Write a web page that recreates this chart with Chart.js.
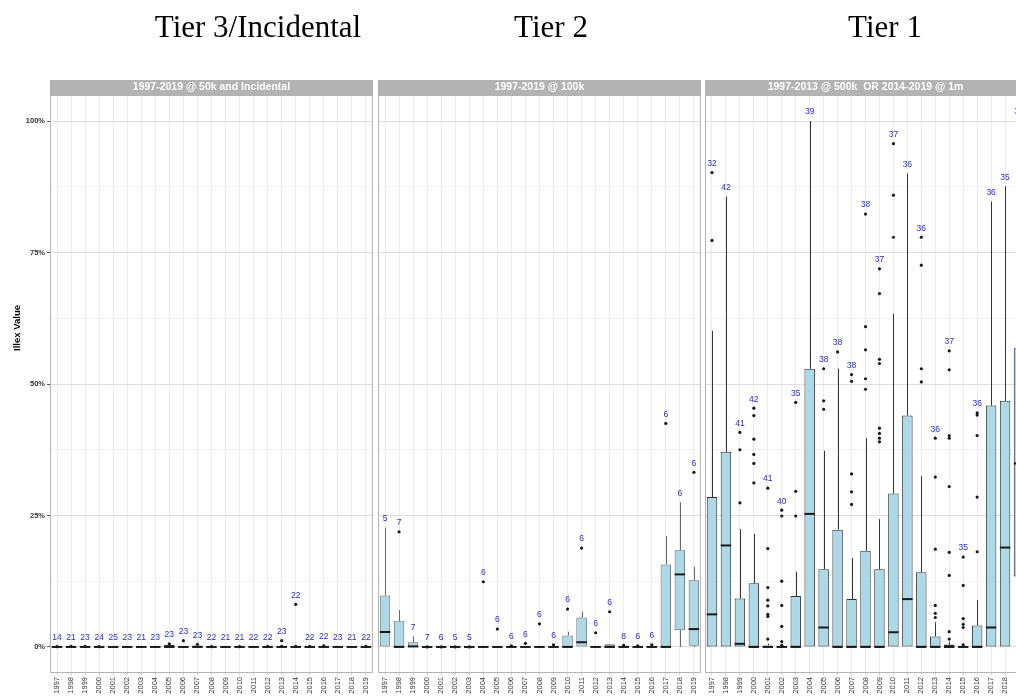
<!DOCTYPE html>
<html>
<head>
<meta charset="utf-8">
<script src="https://cdn.jsdelivr.net/npm/chart.js@4.4.1/dist/chart.umd.min.js"></script>
<style>
  html, body { margin: 0; padding: 0; background: #fff; overflow: hidden; }
  #wrap { position: relative; width: 1032px; height: 696px; }
  #wrap canvas { position: absolute; top: 0; }
  .tier {
    position: absolute; top: 11px;
    font-family: "Liberation Serif", "Times New Roman", serif;
    font-size: 31px; line-height: 31px; color: #000;
    white-space: nowrap; transform: translateX(-50%);
  }
</style>
</head>
<body>
<div id="wrap">
  <canvas id="p1" width="377" height="696" style="left:0px"></canvas>
  <canvas id="p2" width="331" height="696" style="left:374px"></canvas>
  <canvas id="p3" width="330" height="696" style="left:701px"></canvas>
  <div class="tier" style="left:258px">Tier 3/Incidental</div>
  <div class="tier" style="left:551px">Tier 2</div>
  <div class="tier" style="left:885px">Tier 1</div>
</div>
<script>
// Survey years shown along every facet
const years = ['1997','1998','1999','2000','2001','2002','2003','2004','2005','2006','2007','2008',
               '2009','2010','2011','2012','2013','2014','2015','2016','2017','2018','2019'];

// Y axis: percent values, labelled every 25
const yTickLabels = ['0%', '25%', '50%', '75%', '100%'];

// ---- Tier 3 / Incidental (1997-2019 @ 50k and Incidental) ----
const tier3Counts  = [14,21,23,24,25,23,21,23,23,23,23,22,21,21,22,22,23,22,22,22,23,21,22];
const tier3Q1      = [0,0,0,0,0,0,0,0,0,0,0,0,0,0,0,0,0,0,0,0,0,0,0];
const tier3Median  = [0,0,0,0,0,0,0,0,0,0,0,0,0,0,0,0,0,0,0,0,0,0,0];
const tier3Q3      = [0,0,0,0,0,0,0,0,0.4,0,0.3,0,0,0,0,0,0,0,0,0.15,0,0,0];
const tier3Low     = [0,0,0,0,0,0,0,0,0,0,0,0,0,0,0,0,0,0,0,0,0,0,0];
const tier3High    = [0,0,0,0,0,0,0,0,0.4,0,0.3,0,0,0,0,0,0,0,0,0.15,0,0,0];
const tier3Outliers = [[0.05],[0.1],[0.1],[0.05],[],[],[],[],[0.6],[1.2],[0.5],[0.05],
                       [],[0.05],[],[0.1],[0.1,1.2],[0.1,8.1],[0.1],[0.2],[],[],[0.1]];

// ---- Tier 2 (1997-2019 @ 100k) ----
const tier2Counts  = [5,7,7,7,6,5,5,6,6,6,6,6,6,6,6,6,6,8,6,6,6,6,6];
const tier2Q1      = [0,0,0,0,0,0,0,0,0,0,0,0,0,0,0,0,0,0,0,0,0,3.2,0.25];
const tier2Median  = [2.85,0,0.1,0,0,0,0,0,0,0,0,0,0,0,0.9,0,0,0,0,0,0,13.8,3.4];
const tier2Q3      = [9.8,4.9,0.9,0,0,0,0,0,0,0,0,0,0,2.2,5.6,0,0.5,0,0,0,15.7,18.4,12.7];
const tier2Low     = [0,0,0,0,0,0,0,0,0,0,0,0,0,0,0,0,0,0,0,0,0,0,0];
const tier2High    = [22.7,7.0,2.0,0,0,0,0,0,0,0,0,0,0,2.9,6.7,0,0.5,0,0,0,21.1,27.5,15.2];
const tier2Outliers = [[],[21.9],[],[0],[0],[0],[0],[12.4],[3.4],[0.2],[0.7],[4.4],
                       [0.4],[7.2],[18.8],[2.7],[6.7],[0.3],[0.2],[0.4],[42.5],[],[33.2]];

// ---- Tier 1 (1997-2013 @ 500k OR 2014-2019 @ 1m) ----
const tier1Counts  = [32,42,41,42,41,40,35,39,38,38,38,38,37,37,36,36,36,37,35,36,36,35,36];
const tier1Q1      = [0,0,0,0,0,0,0,0,0,0,0,0,0,0,0,0,0,0,0,0,0,0,13.4];
const tier1Median  = [6.2,19.3,0.6,0,0,0,0,25.3,3.7,0,0,0,0,2.8,9.1,0,0,0,0,0,3.7,18.9,34.9];
const tier1Q3      = [28.5,37.1,9.2,12.1,0.3,0.2,9.7,52.9,14.8,22.3,9.1,18.3,14.8,29.2,44.0,14.2,
                      2.0,0.45,0.2,4.1,45.9,46.8,56.8];
const tier1Low     = [0,0,0,0,0,0,0,0,0,0,0,0,0,0,0,0,0,0,0,0,0,0,0];
const tier1High    = [60.1,85.6,22.4,21.5,0.6,0.5,14.3,100,37.3,52.9,16.9,39.7,24.3,63.4,90.0,32.5,
                      4.7,1.0,0.4,8.9,84.7,87.6,100];
const tier1Outliers = [
  [77.3,90.2], [], [27.4,37.5,40.8], [31.2,34.9,36.6,39.5,44.0,45.4],
  [1.5,5.8,6.2,7.8,8.9,11.3,18.7,30.2], [0.3,1.0,3.9,7.9,12.5,24.9,26.0], [24.9,29.6,46.5], [],
  [45.2,46.8,52.9], [56.1], [27.1,29.5,32.9,50.5,51.8], [49.0,51.0,56.5,60.9,82.3],
  [39.0,39.7,40.6,41.6,53.9,54.7,67.2,71.9], [77.9,85.9,95.7], [], [50.4,52.9,72.6,77.9],
  [5.6,6.4,7.9,18.6,32.3,39.7], [1.5,2.9,13.6,18.0,30.5,39.7,40.2,52.7,56.3],
  [0.4,3.7,4.3,5.4,11.7,17.1], [18.1,28.5,40.2,44.1,44.5], [], [], []
];

const SANS = '"Liberation Sans", Arial, Helvetica, sans-serif';
const STRIP_GREY = '#b3b3b3';

// Draws whiskers, medians, sample-size labels, panel frame and strip for one facet
function boxParts(stats) {
  return {
    id: 'boxParts',
    beforeDatasetsDraw(chart) {
      const ctx = chart.ctx, y = chart.scales.y, bars = chart.getDatasetMeta(0).data;
      ctx.save();
      ctx.strokeStyle = stats.line;
      ctx.lineWidth = 1;
      bars.forEach((bar, i) => {
        const x = Math.round(bar.x) + 0.5;
        ctx.beginPath();
        ctx.moveTo(x, y.getPixelForValue(stats.q3[i]));
        ctx.lineTo(x, y.getPixelForValue(stats.high[i]));
        ctx.moveTo(x, y.getPixelForValue(stats.q1[i]));
        ctx.lineTo(x, y.getPixelForValue(stats.low[i]));
        ctx.stroke();
      });
      ctx.restore();
    },
    afterDatasetsDraw(chart) {
      const ctx = chart.ctx, y = chart.scales.y, bars = chart.getDatasetMeta(0).data;
      ctx.save();
      ctx.strokeStyle = '#1a1a1a';
      ctx.lineWidth = 2;
      bars.forEach((bar, i) => {
        const yy = y.getPixelForValue(stats.median[i]);
        ctx.beginPath();
        ctx.moveTo(bar.x - bar.width / 2, yy);
        ctx.lineTo(bar.x + bar.width / 2, yy);
        ctx.stroke();
      });
      ctx.fillStyle = '#2a2ad0';
      ctx.font = '8.5px ' + SANS;
      ctx.textAlign = 'center';
      ctx.textBaseline = 'middle';
      bars.forEach((bar, i) => {
        const top = Math.max(stats.q3[i], stats.high[i], ...stats.outliers[i]);
        ctx.fillText(String(stats.counts[i]), bar.x, y.getPixelForValue(top) - 9);
      });
      ctx.restore();
    },
    afterDraw(chart) {
      const ctx = chart.ctx, a = chart.chartArea;
      ctx.save();
      ctx.strokeStyle = STRIP_GREY;
      ctx.lineWidth = 1;
      ctx.strokeRect(a.left + 0.5, a.top + 0.5, a.right - a.left - 1, a.bottom - a.top - 1);
      ctx.fillStyle = STRIP_GREY;
      ctx.fillRect(a.left, a.top - 15, a.right - a.left, 15);
      ctx.fillStyle = '#ffffff';
      ctx.font = 'bold 10.5px ' + SANS;
      ctx.textAlign = 'center';
      ctx.textBaseline = 'middle';
      ctx.fillText(stats.strip, (a.left + a.right) / 2, a.top - 7.5);
      if (stats.yTitle) {
        ctx.fillStyle = '#000';
        ctx.font = 'bold 9.5px ' + SANS;
        ctx.translate(17, 328);
        ctx.rotate(-Math.PI / 2);
        ctx.fillText(stats.yTitle, 0, 0);
      }
      ctx.restore();
    }
  };
}

function makePanel(id, stats, withYAxis, pad) {
  const outlierPts = [];
  stats.outliers.forEach((list, i) => list.forEach(v => outlierPts.push({ x: years[i], y: v })));
  const isMajor = v => Math.abs(v % 25) < 1e-9;
  return new Chart(document.getElementById(id), {
    type: 'bar',
    data: {
      labels: years,
      datasets: [
        {
          type: 'bar',
          data: stats.q1.map((v, i) => [v, stats.q3[i]]),
          backgroundColor: '#add8e6',
          borderColor: stats.line,
          borderWidth: 1,
          borderSkipped: false,
          barPercentage: 0.75,
          categoryPercentage: 1,
          order: 2
        },
        {
          type: 'line',
          data: outlierPts,
          showLine: false,
          pointRadius: 1.6,
          pointBackgroundColor: '#1a1a1a',
          pointBorderWidth: 0,
          order: 1
        }
      ]
    },
    options: {
      responsive: false,
      animation: false,
      events: [],
      layout: { padding: pad },
      plugins: { legend: { display: false }, tooltip: { enabled: false } },
      scales: {
        x: {
          type: 'category',
          offset: true,
          afterFit: s => { s.height = 23; },
          border: { display: false },
          grid: { offset: false, color: '#ebebeb', lineWidth: 1, tickLength: 2, tickColor: '#cfcfcf' },
          ticks: {
            autoSkip: false, maxRotation: 90, minRotation: 90, padding: 2,
            color: '#333', font: { family: SANS, size: 7.5 }
          }
        },
        y: {
          min: -4.95,
          max: 104.95,
          afterFit: s => { s.width = withYAxis ? 50 : 0; },
          border: { display: false },
          grid: {
            color: c => isMajor(c.tick.value) ? '#dedede' : '#f3f3f3',
            lineWidth: 1,
            drawTicks: withYAxis,
            tickLength: 3,
            tickColor: c => isMajor(c.tick.value) ? '#555' : 'rgba(0,0,0,0)'
          },
          ticks: {
            display: withYAxis,
            stepSize: 12.5,
            includeBounds: false,
            padding: 2,
            color: '#333',
            font: { family: SANS, size: 7.5, weight: 'bold' },
            callback: v => isMajor(v) ? yTickLabels[Math.round(v / 25)] : ''
          }
        }
      }
    },
    plugins: [boxParts(stats)]
  });
}

makePanel('p1', {
  counts: tier3Counts, q1: tier3Q1, median: tier3Median, q3: tier3Q3,
  low: tier3Low, high: tier3High, outliers: tier3Outliers,
  strip: '1997-2019 @ 50k and Incidental', yTitle: 'Illex Value', line: '#333'
}, true, { top: 95, left: 0, right: 1, bottom: 0 });

makePanel('p2', {
  counts: tier2Counts, q1: tier2Q1, median: tier2Median, q3: tier2Q3,
  low: tier2Low, high: tier2High, outliers: tier2Outliers,
  strip: '1997-2019 @ 100k', line: '#666'
}, false, { top: 95, left: 3, right: 3, bottom: 0 });

makePanel('p3', {
  counts: tier1Counts, q1: tier1Q1, median: tier1Median, q3: tier1Q3,
  low: tier1Low, high: tier1High, outliers: tier1Outliers,
  strip: '1997-2013 @ 500k  OR 2014-2019 @ 1m', line: '#333'
}, false, { top: 95, left: 3, right: 5, bottom: 0 });
</script>
</body>
</html>
